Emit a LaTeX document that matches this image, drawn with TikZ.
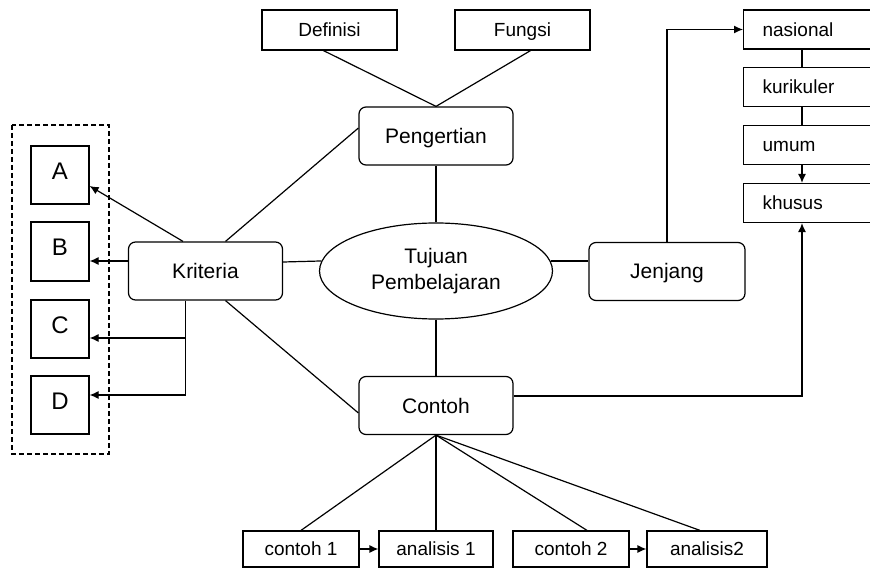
\documentclass[tikz,border=0pt]{standalone}
\usepackage{fontspec}
\setmainfont{Liberation Sans}
\usetikzlibrary{shapes.geometric,arrows.meta}

\begin{document}
\begin{tikzpicture}[x=1pt, y=-1pt, line width=1.2pt,
  topic/.style={rectangle, draw, rounded corners=7pt, minimum width=154pt, minimum height=58pt, text height=19pt, text depth=4pt, font=\fontsize{21}{25}\selectfont},
  item/.style={rectangle, draw, minimum width=135pt, minimum height=40pt, text height=17pt, text depth=3.4pt, font=\fontsize{19}{23}\selectfont},
  subitem/.style={rectangle, draw, minimum width=116pt, minimum height=36pt, text height=17pt, text depth=3.4pt, font=\fontsize{19}{23}\selectfont},
  level/.style={rectangle, draw, anchor=west, inner xsep=19pt, text width=92pt, align=left, minimum height=39pt, text height=17pt, text depth=3.4pt, font=\fontsize{19}{23}\selectfont},
  letter/.style={rectangle, draw, minimum width=58pt, minimum height=58pt, text height=14pt, text depth=5pt, font=\fontsize{24}{28}\selectfont},
  arr/.style={-{Latex[length=9pt,width=8pt]}}]

\useasboundingbox (0,0) rectangle (870,569);

% Centre
\node[ellipse, draw, minimum width=233pt, minimum height=96pt, inner sep=0pt, align=center, font=\fontsize{21}{26}\selectfont] (tujuan) at (436,271) {Tujuan\\Pembelajaran};

\node[topic] (peng) at (436,136) {Pengertian};
\node[topic] (krit) at (205.5,271) {Kriteria};
\node[topic, minimum width=156pt] (jenj) at (667,271.5) {Jenjang};
\node[topic] (contoh) at (436,405.5) {Contoh};

% Pengertian
\node[item] (defn) at (329.5,30) {Definisi};
\node[item] (fungsi) at (522.5,30) {Fungsi};

\draw ([xshift=-6pt]defn.south) -- (peng.north);
\draw ([xshift=8pt]fungsi.south) -- (peng.north);
\draw (peng.south) -- (tujuan.north);

% Kriteria
\draw[dashed, dash pattern=on 5pt off 3pt] (12,125) rectangle (109,454);
\node[letter] (A) at (60,175) {A};
\node[letter, minimum height=59pt] (B) at (60,251.5) {B};
\node[letter] (C) at (60,329) {C};
\node[letter] (D) at (60,405) {D};

\coordinate (ka) at ([xshift=-22.5pt]krit.north);
\coordinate (ks) at ([xshift=-20pt]krit.south);
\coordinate (bB) at ([yshift=-9.5pt]B.east);
\coordinate (cC) at ([yshift=-9pt]C.east);
\coordinate (dD) at ([yshift=10pt]D.east);

\draw[arr] (ka) -- ([yshift=-11pt]A.east);
\draw[arr] (krit.west |- bB) -- (bB);
\draw[arr] (ks) |- (dD);
\draw[arr] (ks |- cC) -- (cC);

\draw ([xshift=20pt]krit.north) -- ([yshift=8pt]peng.west);
\draw ([yshift=9pt]krit.east) -- (tujuan.175);
\draw ([xshift=20pt]krit.south) -- ([yshift=-7.5pt]contoh.west);

% Jenjang
\coordinate (lv) at (802,0);
\node[level] (nas) at (743,29.5) {nasional};
\node[level] (kur) at (743,87) {kurikuler};
\node[level] (umum) at (743,145) {umum};
\node[level] (khus) at (743,203) {khusus};

\draw (tujuan.5) -- (tujuan.5 -| jenj.west);
\draw[arr] (jenj.north) |- (nas.west);
\draw (nas.south -| lv) -- (kur.north -| lv);
\draw (kur.south -| lv) -- (umum.north -| lv);
\draw[arr] (umum.south -| lv) -- (khus.north -| lv);

% Contoh
\draw (tujuan.south) -- (contoh.north);
\draw[arr] ([yshift=9.5pt]contoh.east) -| (khus.south -| lv);

\node[subitem] (c1) at (301,549) {contoh 1};
\node[subitem, minimum width=114pt] (a1) at (436,549) {analisis 1};
\node[subitem] (c2) at (571,549) {contoh 2};
\node[subitem, minimum width=120pt] (a2) at (707,549) {analisis2};

\draw (contoh.south) -- (c1.north);
\draw (contoh.south) -- (a1.north);
\draw (contoh.south) -- ([xshift=16pt]c2.north);
\draw (contoh.south) -- ([xshift=-7pt]a2.north);
\draw[arr] (c1) -- (a1);
\draw[arr] (c2) -- (a2);
\end{tikzpicture}
\end{document}
